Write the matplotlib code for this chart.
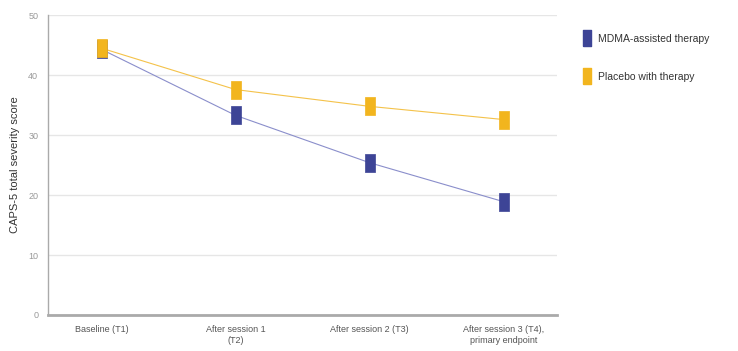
import numpy as np
import matplotlib
matplotlib.use("Agg")
import matplotlib.pyplot as plt
from matplotlib.lines import Line2D

categories = ["Baseline (T1)", "After session 1\n(T2)", "After session 2 (T3)",
              "After session 3 (T4),\nprimary endpoint"]
mdma = [44.3, 33.3, 25.4, 18.9]
placebo = [44.5, 37.6, 34.8, 32.6]
series_names = ["MDMA-assisted therapy", "Placebo with therapy"]

blue = "#3d4496"
yellow = "#f2b51e"

plt.rcParams["font.family"] = ["Liberation Sans", "DejaVu Sans"]

fig = plt.figure(figsize=(7.38, 3.51), dpi=100)
ax = fig.add_axes([0.065, 0.1026, 0.69, 0.854])

# tall rectangle marker
rect = [(-5, -9), (5, -9), (5, 9), (-5, 9), (-5, -9)]

x = np.arange(len(categories))
ax.plot(x, placebo, color="#f4c24a", lw=0.8, zorder=3)
ax.plot(x, mdma, color="#8a8ecb", lw=0.8, zorder=3)
ax.plot(x, mdma, ls="none", marker=rect, ms=13, mfc=blue, mec=blue, mew=0.5, zorder=4)
ax.plot(x, placebo, ls="none", marker=rect, ms=13, mfc=yellow, mec=yellow, mew=0.5, zorder=5)

ax.set_xlim(-0.4, 3.4)
ax.set_ylim(0, 50)
ax.set_yticks(range(0, 51, 10))
ax.set_xticks(x)
ax.set_xticklabels(categories, fontsize=6.5, color="#555555", linespacing=1.3)
ax.tick_params(axis="y", labelsize=6.5, labelcolor="#999999", length=0, pad=7)
ax.tick_params(axis="x", length=0, pad=7)
ax.grid(axis="y", color="#e6e6e6", lw=1)
ax.set_axisbelow(True)
for s in ["top", "right"]:
    ax.spines[s].set_visible(False)
ax.spines["left"].set_color("#aaaaaa")
ax.spines["left"].set_linewidth(1.0)
ax.spines["bottom"].set_color("#aaaaaa")
ax.spines["bottom"].set_linewidth(2.0)
ax.set_ylabel("CAPS-5 total severity score", fontsize=8, color="#333333", labelpad=6)

handles = [Line2D([], [], ls="none", marker=rect, ms=11, mfc=c, mec=c)
           for c in [blue, yellow]]
fig.legend(handles, series_names, loc="upper left", bbox_to_anchor=(0.775, 0.93),
           frameon=False, fontsize=7.5, labelspacing=2.7, handletextpad=0.6,
           handlelength=1.0, labelcolor="#333333")

fig.savefig("out.png", dpi=100)
